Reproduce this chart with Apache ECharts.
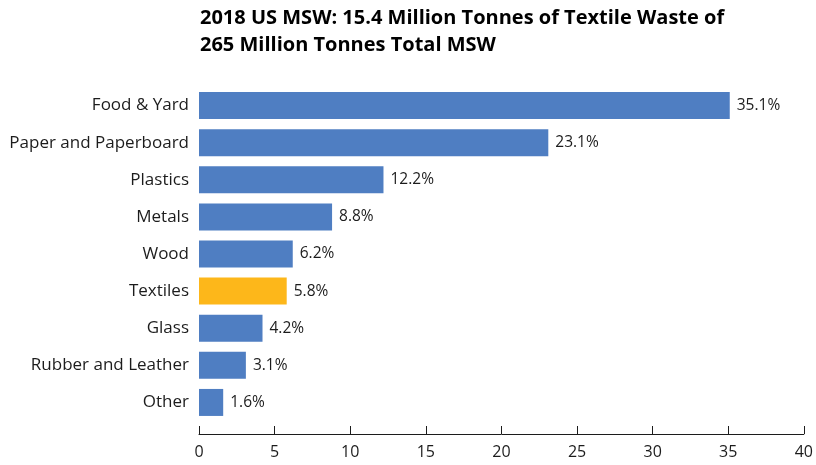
<!DOCTYPE html>
<html>
<head>
<meta charset="utf-8">
<script src="https://cdn.jsdelivr.net/npm/echarts@6/dist/echarts.min.js"></script>
<style>
  html, body { margin: 0; padding: 0; background: #fff; }
  #chart { width: 816px; height: 465px; }
</style>
</head>
<body>
<div id="chart"></div>
<script>
// Share of 2018 US municipal solid waste by material (percent)
const categories = ['Food & Yard', 'Paper and Paperboard', 'Plastics', 'Metals', 'Wood', 'Textiles', 'Glass', 'Rubber and Leather', 'Other'];
const shares = [35.1, 23.1, 12.2, 8.8, 6.2, 5.8, 4.2, 3.1, 1.6];
const highlight = 'Textiles';
const xTicks = { min: 0, max: 40, interval: 5 };

const BLUE = '#4F7EC2';
const GOLD = '#FDB71A';
const INK = '#1c1c1c';
const FONT = '"Open Sans"';

const chart = echarts.init(document.getElementById('chart'), null, { renderer: 'canvas' });

chart.setOption({
  animation: false,
  title: {
    text: '2018 US MSW: 15.4 Million Tonnes of Textile Waste of\n265 Million Tonnes Total MSW',
    left: 195,
    top: 0,
    textStyle: { fontFamily: FONT, fontWeight: 'bold', fontSize: 20, lineHeight: 27, color: '#000' }
  },
  grid: { left: 199, right: 11, top: 87, bottom: 44, containLabel: false },
  xAxis: {
    type: 'value',
    min: xTicks.min, max: xTicks.max, interval: xTicks.interval,
    offset: 13,
    axisLine: { show: true, lineStyle: { color: INK, width: 1 } },
    axisTick: { show: true, inside: true, length: 8, lineStyle: { color: INK } },
    splitLine: { show: false },
    axisLabel: { fontFamily: FONT, fontSize: 16, color: INK, margin: 10 }
  },
  yAxis: {
    type: 'category',
    data: categories,
    inverse: true,
    axisLine: { show: false },
    axisTick: { show: false },
    axisLabel: { fontFamily: FONT, fontSize: 17, color: INK, margin: 10 }
  },
  series: [{
    type: 'bar',
    data: shares.map((v, i) => ({
      value: v,
      itemStyle: { color: categories[i] === highlight ? GOLD : BLUE }
    })),
    barWidth: 27,
    label: {
      show: true,
      position: 'right',
      distance: 7,
      fontFamily: FONT,
      fontSize: 15.5,
      color: INK,
      formatter: p => p.value.toFixed(1) + '%'
    }
  }]
});
</script>
</body>
</html>
